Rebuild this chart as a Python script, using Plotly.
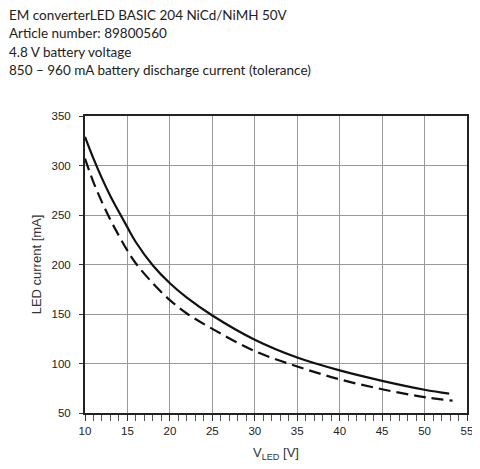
import plotly.graph_objects as go

# Data
v_solid = [10, 11, 12, 13, 14, 15, 16, 18, 20, 22, 25, 30, 35, 40, 45, 50, 52.9]
i_solid = [329, 307, 287, 269, 253, 237.5, 222.5, 199, 181, 166.5, 148.5, 124, 106, 93, 82.5, 73.5, 69.5]

v_dashed = [10, 11, 12, 13, 14, 15, 16, 18, 20, 22, 25, 30, 35, 40, 45, 50, 53.3]
i_dashed = [307, 283, 263, 245, 229, 214, 201, 181, 164, 150.5, 135, 112.5, 97, 84, 74, 66, 62.5]

header_lines = [
    "EM converterLED BASIC 204 NiCd/NiMH 50V",
    "Article number: 89800560",
    "4.8 V battery voltage",
    "850 – 960 mA battery discharge current (tolerance)",
]

x_range = [10, 55]
x_step = 5
y_range = [50, 350]
y_step = 50

# page body has an 8px margin, so the figure is sized/offset accordingly
OFF = 8
W, H = 480 - OFF, 469 - OFF
L, R, T, B = 85 - OFF, 13, 116 - OFF, 56
plot_w = W - L - R
plot_h = H - T - B

fig = go.Figure()
fig.add_trace(go.Scatter(x=v_solid, y=i_solid, mode="lines",
                         line=dict(color="#111111", width=2.2, shape="spline", smoothing=1.0),
                         showlegend=False, hoverinfo="skip"))
fig.add_trace(go.Scatter(x=v_dashed, y=i_dashed, mode="lines",
                         line=dict(color="#111111", width=2.2, shape="spline", smoothing=1.0,
                                   dash="12px,6px"),
                         showlegend=False, hoverinfo="skip"))

header_y_px = [15.5, 33, 51.5, 70]
annotations = []
for txt, py in zip(header_lines, header_y_px):
    annotations.append(dict(
        text=txt, xref="paper", yref="paper",
        x=(8 - OFF - L) / plot_w, y=(H - B - (py - OFF)) / plot_h,
        xanchor="left", yanchor="middle", showarrow=False, borderpad=0,
        font=dict(family="Lato, Noto Sans, sans-serif", size=13.5, color="#222222"),
    ))

fig.update_layout(
    template="none",
    width=W, height=H,
    margin=dict(l=L, r=R, t=T, b=B, pad=0, autoexpand=False),
    paper_bgcolor="white", plot_bgcolor="white",
    annotations=annotations,
    font=dict(family="Liberation Sans, Arial, sans-serif", size=11.5, color="#222222"),
)

fig.update_xaxes(
    range=x_range, tick0=x_range[0], dtick=x_step, automargin=False,
    showgrid=True, gridcolor="#999999", gridwidth=1,
    showline=True, linecolor="#222222", linewidth=2, mirror=True,
    ticks="outside", ticklen=6, tickcolor="#333333", tickwidth=1,
    minor=dict(dtick=1, tick0=x_range[0], ticks="outside", ticklen=6, tickcolor="#555555",
               tickwidth=1),
    zeroline=False,
    title=dict(text="V<sub>LED</sub> [V]", standoff=12,
               font=dict(family="Liberation Sans, Arial, sans-serif", size=13, color="#333333")),
)
fig.update_yaxes(
    range=y_range, tick0=y_range[0], dtick=y_step, automargin=False,
    showgrid=True, gridcolor="#999999", gridwidth=1,
    showline=True, linecolor="#222222", linewidth=2, mirror=True,
    ticks="outside", ticklen=4, tickcolor="#333333", tickwidth=1,
    ticklabelstandoff=6,
    zeroline=False,
    title=dict(text="LED current [mA]", standoff=7,
               font=dict(family="Liberation Sans, Arial, sans-serif", size=13, color="#333333")),
)

fig.write_html("out.html")
